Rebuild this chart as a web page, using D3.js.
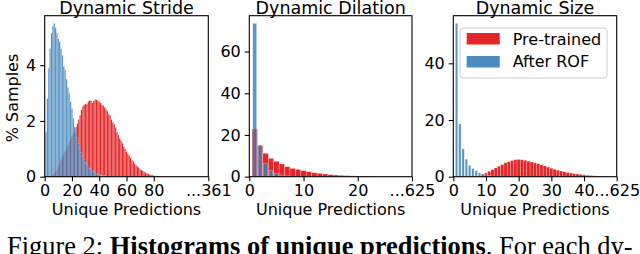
<!DOCTYPE html>
<html><head><meta charset="utf-8">
<script src="https://cdn.jsdelivr.net/npm/d3@7"></script>
<style>html,body{margin:0;padding:0;background:#fff;overflow:hidden}</style>
</head><body>
<svg id="c" width="640" height="254"></svg>
<script>
// ---------- data ----------
const titles = ["Dynamic Stride", "Dynamic Dilation", "Dynamic Size"];
const seriesNames = ["Pre-trained", "After ROF"];
const xMax = [120, 30, 50];
const xTickValues = [[0,20,40,60,80,120],[0,10,20,30],[0,10,20,30,40,50]];
const xTickLabels = [["0","20","40","60","80","...361"],["0","10","20","...625"],["0","10","20","30","40","...625"]];
const yTickValues = [[0,2,4],[0,20,40,60],[0,20,40]];

// values for unique-prediction counts 1,2,3,...
const strideRed = [0,0,0,0.02,0.04,0.07,0.12,0.18,0.26,0.36,0.48,0.6,0.72,0.82,0.92,1.0,1.12,1.25,1.35,1.45,
  1.55,1.65,1.78,1.9,2.05,2.2,2.4,2.52,2.58,2.62,2.6,2.7,2.75,2.72,2.65,2.72,2.78,2.76,2.74,2.7,
  2.65,2.58,2.55,2.5,2.42,2.35,2.25,2.2,2.05,1.95,1.88,1.78,1.6,1.5,1.38,1.3,1.2,1.08,1.0,0.9,
  0.82,0.76,0.68,0.6,0.55,0.47,0.42,0.37,0.33,0.28,0.24,0.21,0.18,0.15,0.12,0.1,0.08,0.07,0.055,0.045,
  0.035,0.03,0.025,0.02,0.02,0.015,0.015,0.012,0.01,0.01,0.01,0.008,0.008,0.006,0.005];
const strideBlue = [1.6,2.8,3.9,4.6,5.15,5.4,5.5,5.35,5.15,4.95,4.85,4.6,4.35,3.95,3.85,3.5,3.2,3.0,2.7,2.45,
  2.1,1.8,1.6,1.4,1.2,1.0,0.88,0.74,0.62,0.52,0.44,0.37,0.31,0.26,0.22,0.18,0.15,0.12,0.1,0.08,
  0.065,0.05,0.04,0.03,0.025,0.02,0.015,0.01,0.01,0.005];
const dilationRed = [22.9,14.7,11.2,8.8,7.4,6.1,4.8,4.0,3.5,2.9,2.4,1.9,1.6,1.3,1.0,0.8,0.65,0.5,0.4,0.3,
  0.25,0.2,0.15,0.12,0.1,0.08,0.05];
const dilationBlue = [73.5,15.2,6.4,2.9,1.6,0.8,0.4,0.2,0.1,0.05];
const sizeRed = [0,0,0,0,0,0,0,0.3,0.8,1.3,1.9,2.5,3.1,3.7,4.3,4.9,5.3,5.7,6.0,6.1,
  6.0,5.8,5.5,5.2,4.9,4.6,4.2,3.8,3.4,3.0,2.6,2.3,2.0,1.75,1.5,1.3,1.1,0.95,0.8,0.65,
  0.52,0.42,0.33,0.25,0.18,0.12,0.08,0.05];
const sizeBlue = [54.1,18.6,9.8,6.2,4.0,2.9,2.1,1.4,1.0,0.65,0.4,0.25,0.15,0.08,0.05];

const redSeries = [strideRed, dilationRed, sizeRed];
const blueSeries = [strideBlue, dilationBlue, sizeBlue];

// ---------- layout ----------
const RED = "#e41a1c", BLUE = "#377eb8";
const panelX = [[44.7,208.3],[249.3,412],[453.3,616.7]];
const plotTop = 15.7, plotBottom = 176.7;
const blueW = [1.0, 0.7, 0.72];
const svg = d3.select("#c");
const FONT = "DejaVu Sans, sans-serif";

panelX.forEach((px, i) => {
  const x = d3.scaleLinear().domain([0, xMax[i]]).range(px);
  const yMaxV = d3.max([...redSeries[i], ...blueSeries[i]]) * 1.05;
  const y = d3.scaleLinear().domain([0, yMaxV]).range([plotBottom, plotTop]);
  const g = svg.append("g");
  const cid = "clip" + i;
  g.append("clipPath").attr("id", cid).append("rect")
    .attr("x", px[0]).attr("y", plotTop).attr("width", px[1]-px[0]).attr("height", plotBottom-plotTop);
  const bars = g.append("g").attr("clip-path", `url(#${cid})`);
  const red = redSeries[i].map((v, k) => ({k: k+1, v}));
  const blue = blueSeries[i].map((v, k) => ({k: k+1, v}));
  bars.selectAll("rect.r").data(red.filter(d=>d.v>0)).join("rect").attr("class","r")
    .attr("x", d => x(d.k-0.5)).attr("width", d => x(d.k+0.5)-x(d.k-0.5))
    .attr("y", d => y(d.v)).attr("height", d => y(0)-y(d.v))
    .attr("fill", RED).attr("fill-opacity", 0.95)
    .attr("stroke", "#fff").attr("stroke-opacity", 0.5).attr("stroke-width", i===0?0.25:0.5);
  bars.selectAll("rect.b").data(blue.filter(d=>d.v>0)).join("rect").attr("class","b")
    .attr("x", d => x(d.k-blueW[i]/2)).attr("width", d => x(d.k+blueW[i]/2)-x(d.k-blueW[i]/2))
    .attr("y", d => y(d.v)).attr("height", d => y(0)-y(d.v))
    .attr("fill", BLUE).attr("fill-opacity", 0.82)
    .attr("stroke", "#fff").attr("stroke-opacity", 0.5).attr("stroke-width", i===0?0.25:0.5);

  // axes
  const xa = g.append("g").attr("transform", `translate(0,${plotBottom})`)
    .call(d3.axisBottom(x).tickValues(xTickValues[i]).tickFormat((d, j) => xTickLabels[i][j]).tickSize(4.5).tickPadding(3.5));
  const ya = g.append("g").attr("transform", `translate(${px[0]},0)`)
    .call(d3.axisLeft(y).tickValues(yTickValues[i]).tickFormat(d3.format("d")).tickSize(4.5).tickPadding(4));
  [xa, ya].forEach(a => {
    a.select(".domain").remove();
    a.selectAll("line").attr("stroke", "#000").attr("stroke-width", 1.1);
    a.selectAll("text").attr("font-family", FONT).attr("font-size", 16).attr("fill", "#000");
  });
  // frame
  g.append("rect").attr("x", px[0]).attr("y", plotTop).attr("width", px[1]-px[0]).attr("height", plotBottom-plotTop)
    .attr("fill", "none").attr("stroke", "#000").attr("stroke-width", 1.1);
  // title
  g.append("text").attr("x", (px[0]+px[1])/2).attr("y", 14.3).attr("text-anchor", "middle")
    .attr("font-family", FONT).attr("font-size", 17.5).text(titles[i]);
  // x label
  g.append("text").attr("x", (px[0]+px[1])/2).attr("y", 214.7).attr("text-anchor", "middle")
    .attr("font-family", FONT).attr("font-size", 16).text("Unique Predictions");
});

// y label
svg.append("text").attr("transform", "translate(18,98) rotate(-90)").attr("text-anchor", "middle")
  .attr("font-family", FONT).attr("font-size", 16).text("% Samples");

// legend
const lg = svg.append("g");
lg.append("rect").attr("x", 460).attr("y", 28).attr("width", 147).attr("height", 50).attr("rx", 3)
  .attr("fill", "#fff").attr("fill-opacity", 0.8).attr("stroke", "#ccc").attr("stroke-width", 1);
[RED, BLUE].forEach((c, j) => {
  lg.append("rect").attr("x", 466.7).attr("y", 33 + j*23).attr("width", 33).attr("height", 11.5)
    .attr("fill", c).attr("fill-opacity", j? 0.9 : 0.95);
  lg.append("text").attr("x", 512.7).attr("y", 44.5 + j*22.5).attr("font-family", FONT)
    .attr("font-size", 16).text(seriesNames[j]);
});

// caption
const cap = svg.append("text").attr("x", 7).attr("y", 254.5)
  .attr("font-family", "Liberation Serif, Times New Roman, serif").attr("font-size", 20);
cap.append("tspan").text("Figure 2: ");
cap.append("tspan").attr("font-weight", "bold").text("Histograms of unique predictions");
cap.append("tspan").text(". For each dy-");
const L = cap.node().getComputedTextLength();
cap.attr("font-size", 20 * 626 / L);
</script>
</body></html>
